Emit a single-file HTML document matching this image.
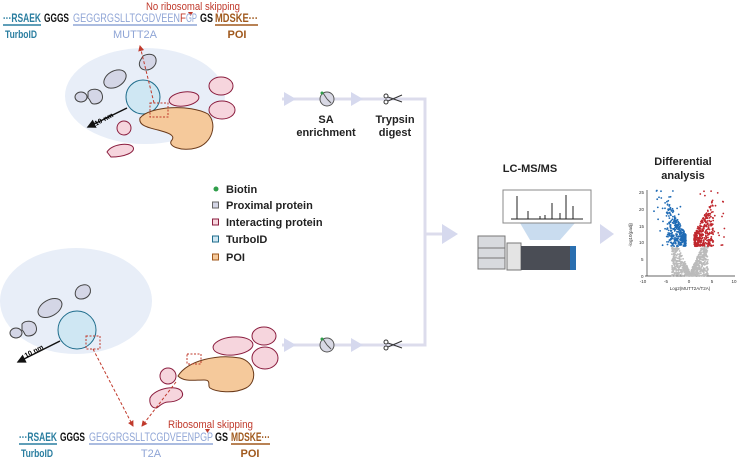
<!DOCTYPE html>
<html><head><meta charset="utf-8"><style>
body{margin:0;background:#fff;width:738px;height:461px;overflow:hidden}
svg{display:block;font-family:"Liberation Sans",Arial,sans-serif;font-weight:bold}
</style></head><body>
<svg id="s" width="738" height="461" viewBox="0 0 738 461" xmlns="http://www.w3.org/2000/svg">
<defs>
<marker id="ra" markerWidth="6" markerHeight="6" refX="5" refY="3" orient="auto"><path d="M0,0L6,3L0,6z" fill="#c0392b"/></marker>
<marker id="ka" markerWidth="6" markerHeight="6" refX="5" refY="3" orient="auto"><path d="M0,0L6,3L0,6z" fill="#111"/></marker>
</defs>
<!-- top sequence -->
<text x="146" y="10" font-size="11" fill="#c0392b" font-weight="normal" textLength="94" lengthAdjust="spacingAndGlyphs">No ribosomal skipping</text>
<path d="M188,12l5,0l-2.5,4z" fill="#c0392b"/>
<g font-size="12">
<text x="3" y="22" fill="#2a7ea0" textLength="38" lengthAdjust="spacingAndGlyphs">···RSAEK</text>
<text x="44" y="22" fill="#111" textLength="25" lengthAdjust="spacingAndGlyphs">GGGS</text>
<text x="73" y="22" fill="#8fa5d6" font-weight="normal" textLength="107" lengthAdjust="spacingAndGlyphs">GEGGRGSLLTCGDVEEN</text>
<text x="180" y="22" fill="#c0392b" font-weight="normal" textLength="6" lengthAdjust="spacingAndGlyphs">F</text>
<text x="186" y="22" fill="#8fa5d6" font-weight="normal" textLength="11" lengthAdjust="spacingAndGlyphs">GP</text>
<text x="200" y="22" fill="#111" textLength="13" lengthAdjust="spacingAndGlyphs">GS</text>
<text x="215" y="22" fill="#a0591d" textLength="43" lengthAdjust="spacingAndGlyphs">MDSKE···</text>
</g>
<line x1="3" y1="25" x2="41" y2="25" stroke="#2a7ea0" stroke-width="1.5"/>
<line x1="73" y1="25" x2="197" y2="25" stroke="#8fa5d6" stroke-width="1.5"/>
<line x1="215" y1="25" x2="258" y2="25" stroke="#a0591d" stroke-width="1.5"/>
<text x="5" y="38" font-size="11" fill="#2a7ea0" textLength="32" lengthAdjust="spacingAndGlyphs">TurboID</text>
<text x="135" y="38" font-size="11" fill="#8fa5d6" font-weight="normal" text-anchor="middle">MUTT2A</text>
<text x="237" y="38" font-size="11" fill="#a0591d" text-anchor="middle">POI</text>

<!-- top cell -->
<ellipse cx="145" cy="96" rx="80" ry="48" fill="#e8eef8"/>
<g stroke="#444" stroke-width="1" fill="#d4d6e6">
<path d="M143,56c6,-3 12,-2 13,3c1,6 -4,11 -10,11c-5,0 -8,-4 -6,-9z"/>
<ellipse cx="115" cy="79" rx="12" ry="8" transform="rotate(-30 115 79)"/>
<path d="M88,92c3,-4 12,-4 14,2c2,6 -2,10 -8,10c-4,0 -3,-4 -6,-6z"/>
<ellipse cx="81" cy="97" rx="6" ry="5"/>
</g>
<g stroke="#8b1e3f" stroke-width="1" fill="#f6d5dd">
<ellipse cx="184" cy="99" rx="15" ry="7" transform="rotate(-8 184 99)"/>
<ellipse cx="221" cy="86" rx="12" ry="9"/>
<ellipse cx="222" cy="110" rx="13" ry="9"/>
<ellipse cx="124" cy="128" rx="7" ry="7"/>
<path d="M107,152c5,-8 22,-10 26,-5c3,5 -8,10 -22,10z"/>
</g>
<circle cx="143" cy="97" r="17" fill="#cfe7f3" stroke="#1f6d8c" stroke-width="1"/>
<path d="M140,118c10,-12 50,-14 68,-4c10,10 4,30 -12,34c-14,4 -30,-2 -24,-8c4,-6 -8,-8 -14,-10c-8,-2 -20,-4 -18,-12z" fill="#f5c99b" stroke="#6b3a1a" stroke-width="1"/>
<rect x="150" y="103" width="18" height="14" fill="none" stroke="#c0392b" stroke-dasharray="2,1.5"/>
<line x1="154" y1="103" x2="140" y2="46" stroke="#c0392b" stroke-dasharray="3,2" marker-end="url(#ra)"/>
<line x1="127" y1="108" x2="88" y2="127" stroke="#111" stroke-width="1.5" marker-end="url(#ka)"/>
<text x="96" y="126" font-size="7" transform="rotate(-28 96 126)">10 nm</text>

<!-- legend -->
<g font-size="11" fill="#222">
<circle cx="216" cy="189" r="2.5" fill="#2f9e4a"/><text x="226" y="193">Biotin</text>
<rect x="212.5" y="202" width="6" height="6" fill="#d4d6e6" stroke="#666"/><text x="226" y="209">Proximal protein</text>
<rect x="212.5" y="219" width="6" height="6" fill="#f6d5dd" stroke="#8b1e3f"/><text x="226" y="226">Interacting protein</text>
<rect x="212.5" y="236" width="6" height="6" fill="#cfe7f3" stroke="#1f6d8c"/><text x="226" y="243">TurboID</text>
<rect x="212.5" y="254" width="6" height="6" fill="#f5c99b" stroke="#a0591d"/><text x="226" y="261">POI</text>
</g>

<!-- bottom cell -->
<ellipse cx="76" cy="301" rx="76" ry="53" fill="#e8eef8"/>
<g stroke="#444" stroke-width="1" fill="#d4d6e6">
<path d="M76,290c3,-6 12,-7 14,-2c2,6 -3,11 -9,11c-5,0 -7,-4 -5,-9z"/>
<ellipse cx="50" cy="308" rx="13" ry="8" transform="rotate(-30 50 308)"/>
<path d="M22,324c3,-4 12,-4 14,2c2,6 -2,10 -8,10c-4,0 -3,-4 -6,-6z"/>
<ellipse cx="16" cy="333" rx="6" ry="5"/>
</g>
<circle cx="77" cy="330" r="19" fill="#cfe7f3" stroke="#1f6d8c" stroke-width="1"/>
<rect x="86" y="336" width="14" height="13" fill="none" stroke="#c0392b" stroke-dasharray="2,1.5"/>
<line x1="60" y1="341" x2="18" y2="362" stroke="#111" stroke-width="1.5" marker-end="url(#ka)"/>
<text x="26" y="358" font-size="7" transform="rotate(-28 26 358)">10 nm</text>
<g stroke="#8b1e3f" stroke-width="1" fill="#f6d5dd">
<ellipse cx="233" cy="346" rx="20" ry="9" transform="rotate(-5 233 346)"/>
<ellipse cx="264" cy="336" rx="12" ry="9"/>
<ellipse cx="265" cy="358" rx="13" ry="11"/>
<ellipse cx="168" cy="376" rx="8" ry="8"/>
<path d="M150,398c5,-10 28,-14 32,-6c3,6 -6,10 -14,10c-6,0 -10,6 -12,6c-4,0 -7,-4 -6,-10z"/>
</g>
<path d="M178,376c10,-16 40,-22 62,-18c16,4 18,24 6,30c-12,6 -30,4 -36,0c-3,-2 2,-8 -6,-8c-10,0 -20,2 -26,-4z" fill="#f5c99b" stroke="#6b3a1a" stroke-width="1"/>
<rect x="187" y="354" width="14" height="10" fill="none" stroke="#c0392b" stroke-dasharray="2,1.5"/>
<line x1="93" y1="349" x2="133" y2="426" stroke="#c0392b" stroke-dasharray="3,2" marker-end="url(#ra)"/>
<line x1="176" y1="382" x2="142" y2="426" stroke="#c0392b" stroke-dasharray="3,2" marker-end="url(#ra)"/>

<!-- bottom sequence -->
<text x="168" y="428" font-size="11" fill="#c0392b" font-weight="normal" textLength="85" lengthAdjust="spacingAndGlyphs">Ribosomal skipping</text>
<path d="M205,429l5,0l-2.5,4z" fill="#c0392b"/>
<g font-size="12">
<text x="19" y="441" fill="#2a7ea0" textLength="38" lengthAdjust="spacingAndGlyphs">···RSAEK</text>
<text x="60" y="441" fill="#111" textLength="25" lengthAdjust="spacingAndGlyphs">GGGS</text>
<text x="89" y="441" fill="#8fa5d6" font-weight="normal" textLength="124" lengthAdjust="spacingAndGlyphs">GEGGRGSLLTCGDVEENPGP</text>
<text x="215" y="441" fill="#111" textLength="13" lengthAdjust="spacingAndGlyphs">GS</text>
<text x="231" y="441" fill="#a0591d" textLength="39" lengthAdjust="spacingAndGlyphs">MDSKE···</text>
</g>
<line x1="19" y1="444" x2="57" y2="444" stroke="#2a7ea0" stroke-width="1.5"/>
<line x1="89" y1="444" x2="213" y2="444" stroke="#8fa5d6" stroke-width="1.5"/>
<line x1="231" y1="444" x2="270" y2="444" stroke="#a0591d" stroke-width="1.5"/>
<text x="21" y="457" font-size="11" fill="#2a7ea0" textLength="32" lengthAdjust="spacingAndGlyphs">TurboID</text>
<text x="151" y="457" font-size="11" fill="#8fa5d6" font-weight="normal" text-anchor="middle">T2A</text>
<text x="250" y="457" font-size="11" fill="#a0591d" text-anchor="middle">POI</text>

<!-- pipeline -->
<g stroke="#dcdcec" stroke-width="3" fill="none">
<path d="M282,99H425V345H282"/>
<path d="M425,234H445"/>
</g>
<g fill="#d6d9ee">
<path d="M284,92l12,7l-12,7z"/><path d="M351,92l12,7l-12,7z"/>
<path d="M284,338l12,7l-12,7z"/><path d="M351,338l12,7l-12,7z"/>
<path d="M442,224l16,10l-16,10z"/><path d="M600,224l14,10l-14,10z"/>
</g>
<g id="clk"><circle cx="327" cy="99" r="7" fill="#d8d8e4" stroke="#555"/><path d="M327,99L323,93" stroke="#555"/><path d="M327,99L331,103" stroke="#555"/><circle cx="322" cy="93" r="1.5" fill="#2f9e4a"/></g>
<use href="#clk" y="246"/>
<g id="sc" stroke="#333" fill="none"><circle cx="386" cy="96" r="2"/><circle cx="386" cy="102" r="2"/><path d="M388,97L402,102M388,101L402,95"/></g>
<use href="#sc" y="246"/>
<g font-size="11" fill="#222" text-anchor="middle">
<text x="326" y="123">SA</text><text x="326" y="136">enrichment</text>
<text x="395" y="123">Trypsin</text><text x="395" y="136">digest</text>
<text x="530" y="172">LC-MS/MS</text>
<text x="683" y="165">Differential</text><text x="683" y="179">analysis</text>
</g>
<!-- MS box -->
<path d="M520,223H575L560,240H530z" fill="#c9dcef"/>
<rect x="503" y="190" width="88" height="33" fill="#fff" stroke="#888"/>
<path d="M511,219H583M517,219V196M528,219V211M552,219V203M566,219V195M573,219V206M560,219V213M540,219V216M545,219V215" stroke="#222" stroke-width="1"/>
<rect x="478" y="236" width="27" height="33" fill="#d8dade" stroke="#777"/>
<line x1="478" y1="248" x2="505" y2="248" stroke="#777"/><line x1="478" y1="258" x2="505" y2="258" stroke="#777"/>
<rect x="507" y="243" width="14" height="27" fill="#e4e4e4" stroke="#777"/>
<rect x="521" y="246" width="54" height="24" fill="#4a4d55"/>
<rect x="570" y="246" width="6" height="24" fill="#2a6fb0"/>
<!-- volcano -->
<g stroke="#333" stroke-width="0.7"><line x1="647" y1="190" x2="647" y2="276"/><line x1="645" y1="276" x2="735" y2="276"/></g>
<g font-size="4.5" font-weight="normal" fill="#333">
<text x="641" y="278">0</text><text x="641" y="261">5</text><text x="639" y="244">10</text><text x="639" y="228">15</text><text x="639" y="211">20</text><text x="639" y="194">25</text>
<text x="643" y="283" text-anchor="middle">-10</text><text x="666" y="283" text-anchor="middle">-5</text><text x="689" y="283" text-anchor="middle">0</text><text x="712" y="283" text-anchor="middle">5</text><text x="734" y="283" text-anchor="middle">10</text>
<text x="690" y="290" text-anchor="middle">Log2(MUTT2A/T2A)</text>
<text x="632" y="235" text-anchor="middle" transform="rotate(-90 632 235)">-log10(padj)</text>
</g>
<g id="pts"></g>
</svg>
<script>
var g=document.getElementById('pts'),s=7;function r(){s=(s*16807)%2147483647;return s/2147483647;}
function P(x,y,c){var e=document.createElementNS('http://www.w3.org/2000/svg','circle');e.setAttribute('cx',x.toFixed(1));e.setAttribute('cy',y.toFixed(1));e.setAttribute('r',0.9);e.setAttribute('fill',c);g.appendChild(e);}
for(var i=0;i<700;i++){var fc=(r()*2-1)*4;var a=Math.abs(fc);var yv=r()*Math.min(9,1+a*3);P(690+fc*4.5,276-yv*3.3,'#bbb');}
for(var i=0;i<650;i++){var sg=r()<0.5?-1:1;var a=0.9+Math.pow(r(),1.3)*4.3;var yv=9+r()*(a+0.5)*2.6;P(690+sg*a*4.5,276-yv*3.3,sg<0?'#1f6bb5':'#c0272d');}
for(var i=0;i<60;i++){var sg=r()<0.5?-1:1;var a=2+r()*6;var yv=9+r()*17;P(690+sg*a*4.5,276-yv*3.3,sg<0?'#1f6bb5':'#c0272d');}
</script>
</body></html>
